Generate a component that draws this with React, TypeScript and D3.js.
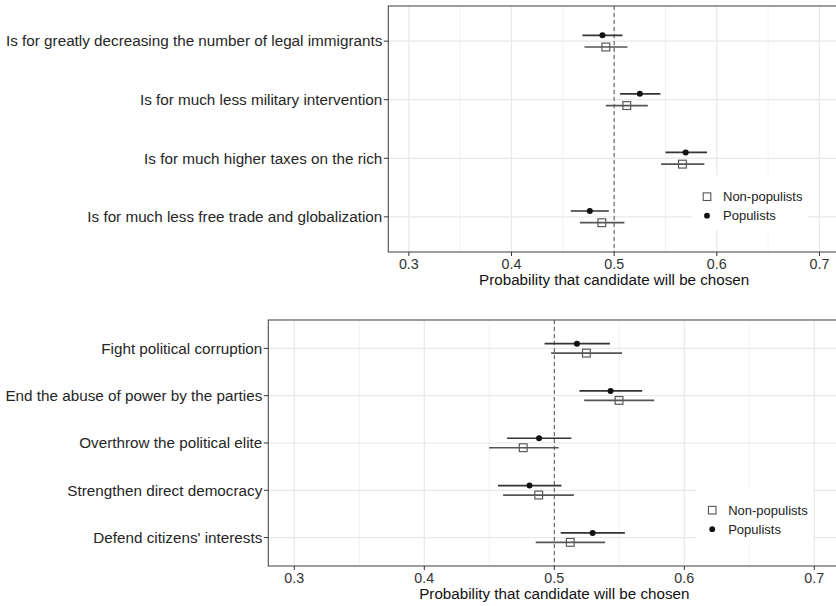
import React from "react";
import * as d3 from "d3";

const W = 836;
const H = 606;

// ---------- Data ----------
const issueLabels = [
  "Is for greatly decreasing the number of legal immigrants",
  "Is for much less military intervention",
  "Is for much higher taxes on the rich",
  "Is for much less free trade and globalization",
];
const issuePopEst = [0.4886, 0.525, 0.5697, 0.4763];
const issuePopLo = [0.4692, 0.5058, 0.55, 0.4578];
const issuePopHi = [0.5081, 0.5451, 0.5905, 0.4948];
const issueNonEst = [0.4919, 0.5123, 0.5665, 0.488];
const issueNonLo = [0.4711, 0.4919, 0.5457, 0.4666];
const issueNonHi = [0.513, 0.5328, 0.5879, 0.51];

const rhetoricLabels = [
  "Fight political corruption",
  "End the abuse of power by the parties",
  "Overthrow the political elite",
  "Strengthen direct democracy",
  "Defend citizens' interests",
];
const rhetPopEst = [0.5174, 0.5433, 0.4883, 0.4809, 0.5295];
const rhetPopLo = [0.4925, 0.5193, 0.4637, 0.4567, 0.5049];
const rhetPopHi = [0.5428, 0.5676, 0.5131, 0.5055, 0.5543];
const rhetNonEst = [0.5247, 0.5498, 0.4761, 0.488, 0.5123];
const rhetNonLo = [0.4976, 0.523, 0.4499, 0.4606, 0.4857];
const rhetNonHi = [0.5521, 0.5769, 0.5033, 0.5151, 0.5391];

const xMajor = [0.3, 0.4, 0.5, 0.6, 0.7];
const xMinor = [0.35, 0.45, 0.55, 0.65];
const xDomain: [number, number] = [0.28, 0.72];
const refValue = 0.5;
const xTitle = "Probability that candidate will be chosen";
const legendNames = ["Non-populists", "Populists"];

const FONT = "'Liberation Sans', Arial, Helvetica, sans-serif";

type PanelProps = {
  labels: string[];
  popEst: number[];
  popLo: number[];
  popHi: number[];
  nonEst: number[];
  nonLo: number[];
  nonHi: number[];
  left: number;
  top: number;
  bottom: number;
  right: number;
  legendBox: { x: number; y: number; w: number; h: number };
  clipId: string;
};

function Panel(p: PanelProps) {
  const x = d3.scaleLinear().domain(xDomain).range([p.left, p.right]);
  const y = d3
    .scalePoint<string>()
    .domain(p.labels)
    .range([p.top, p.bottom])
    .padding(0.6);
  const step = y.step();
  const dodge = step * 0.1;
  const sq = 7.8;

  const lb = p.legendBox;
  const keyX = lb.x + 15.5;
  const key1Y = lb.y + 21.7;
  const key2Y = lb.y + 40.7;

  return (
    <g>
      <clipPath id={p.clipId}>
        <rect x={p.left} y={p.top} width={p.right - p.left} height={p.bottom - p.top} />
      </clipPath>
      <g clipPath={`url(#${p.clipId})`}>
        <rect x={p.left} y={p.top} width={p.right - p.left} height={p.bottom - p.top} fill="white" />
        {xMinor.map((v) => (
          <line key={"mi" + v} x1={x(v)} x2={x(v)} y1={p.top} y2={p.bottom} stroke="#ebebeb" strokeWidth={0.7} />
        ))}
        {xMajor.map((v) => (
          <line key={"ma" + v} x1={x(v)} x2={x(v)} y1={p.top} y2={p.bottom} stroke="#e8e8e8" strokeWidth={1.2} />
        ))}
        {p.labels.map((l) => (
          <line key={"gy" + l} x1={p.left} x2={p.right} y1={y(l)!} y2={y(l)!} stroke="#e8e8e8" strokeWidth={1.2} />
        ))}
        <line
          x1={x(refValue)}
          x2={x(refValue)}
          y1={p.top}
          y2={p.bottom}
          stroke="#555"
          strokeWidth={1}
          strokeDasharray="4,3"
        />
        {p.labels.map((l, i) => {
          const cy = y(l)!;
          const yp = cy - dodge;
          const yn = cy + dodge;
          return (
            <g key={"m" + l}>
              <line x1={x(p.popLo[i])} x2={x(p.popHi[i])} y1={yp} y2={yp} stroke="#333" strokeWidth={1.7} />
              <line x1={x(p.nonLo[i])} x2={x(p.nonHi[i])} y1={yn} y2={yn} stroke="#555" strokeWidth={1.7} />
              <circle cx={x(p.popEst[i])} cy={yp} r={3} fill="#111" />
              <rect
                x={x(p.nonEst[i]) - sq / 2}
                y={yn - sq / 2}
                width={sq}
                height={sq}
                fill="none"
                stroke="#555"
                strokeWidth={1.15}
              />
            </g>
          );
        })}
        {/* legend */}
        <rect x={lb.x} y={lb.y} width={lb.w} height={lb.h} fill="white" />
        <rect x={keyX - 3.8} y={key1Y - 3.8} width={7.6} height={7.6} fill="none" stroke="#555" strokeWidth={1.1} />
        <circle cx={keyX} cy={key2Y} r={2.9} fill="#111" />
        <text x={keyX + 16} y={key1Y} dy="0.35em" fontSize={13} fill="#222" fontFamily={FONT}>
          {legendNames[0]}
        </text>
        <text x={keyX + 16} y={key2Y} dy="0.35em" fontSize={13} fill="#222" fontFamily={FONT}>
          {legendNames[1]}
        </text>
      </g>
      {/* panel border */}
      <rect
        x={p.left}
        y={p.top}
        width={p.right - p.left}
        height={p.bottom - p.top}
        fill="none"
        stroke="#4d4d4d"
        strokeWidth={1.1}
      />
      {/* y axis */}
      {p.labels.map((l) => (
        <g key={"yl" + l}>
          <line x1={p.left - 4.5} x2={p.left} y1={y(l)!} y2={y(l)!} stroke="#333" strokeWidth={1} />
          <text
            x={p.left - 6}
            y={y(l)!}
            dy="0.35em"
            textAnchor="end"
            fontSize={15.25}
            fill="#262626"
            fontFamily={FONT}
          >
            {l}
          </text>
        </g>
      ))}
      {/* x axis */}
      {xMajor.map((v) => (
        <g key={"xt" + v}>
          <line x1={x(v)} x2={x(v)} y1={p.bottom} y2={p.bottom + 4} stroke="#333" strokeWidth={1} />
          <text x={x(v)} y={p.bottom + 16.5} textAnchor="middle" fontSize={14.3} fill="#333" fontFamily={FONT}>
            {d3.format(".1f")(v)}
          </text>
        </g>
      ))}
      <text
        x={(p.left + p.right) / 2}
        y={p.bottom + 33}
        textAnchor="middle"
        fontSize={15.2}
        fill="#111"
        fontFamily={FONT}
      >
        {xTitle}
      </text>
    </g>
  );
}

export default function App() {
  return (
    <svg
      width={W}
      height={H}
      viewBox={`0 0 ${W} ${H}`}
      style={{ position: "absolute", left: 0, top: 0, background: "white" }}
    >
      <rect x={0} y={0} width={W} height={H} fill="white" />
      <Panel
        labels={issueLabels}
        popEst={issuePopEst}
        popLo={issuePopLo}
        popHi={issuePopHi}
        nonEst={issueNonEst}
        nonLo={issueNonLo}
        nonHi={issueNonHi}
        left={388.3}
        top={6}
        bottom={252}
        right={840}
        legendBox={{ x: 691.5, y: 175, w: 116.5, h: 55 }}
        clipId="clipTop"
      />
      <Panel
        labels={rhetoricLabels}
        popEst={rhetPopEst}
        popLo={rhetPopLo}
        popHi={rhetPopHi}
        nonEst={rhetNonEst}
        nonLo={rhetNonLo}
        nonHi={rhetNonHi}
        left={268.3}
        top={320}
        bottom={566}
        right={840.3}
        legendBox={{ x: 696.7, y: 488.5, w: 116.6, h: 57 }}
        clipId="clipBottom"
      />
    </svg>
  );
}
